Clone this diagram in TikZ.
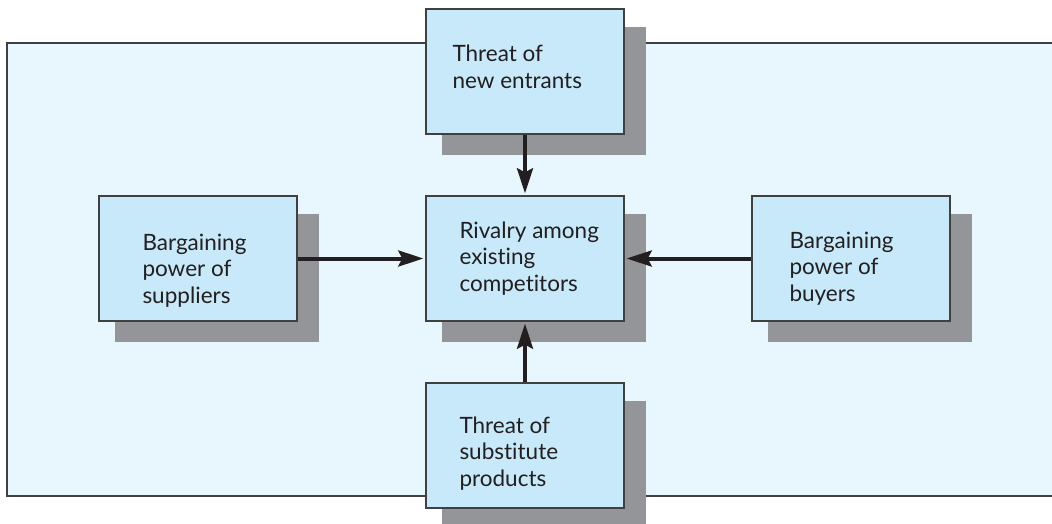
\documentclass[tikz,border=0pt]{standalone}
\usepackage{fontspec}
\setmainfont{Lato}[Ligatures={NoCommon}]
\usetikzlibrary{arrows.meta,shadows}
\definecolor{bgfill}{HTML}{E8F6FD}
\definecolor{boxfill}{HTML}{C7E9F9}
\definecolor{shadowgray}{HTML}{939598}
\definecolor{edgegray}{HTML}{404041}
\definecolor{inkblack}{HTML}{231F20}
\newcommand{\linestack}[1]{\vtop{\fontsize{22.5}{26.5}\selectfont\halign{##\hfil\cr#1\crcr}}}
\tikzset{
  forcebox/.style={draw=edgegray, fill=boxfill, line width=1.4pt,
    minimum width=198pt, minimum height=125pt, inner sep=0pt,
    general shadow={fill=shadowgray, shadow xshift=18.5pt, shadow yshift=-19pt, shadow scale=1.027}},
  forcetext/.style={anchor=base west, inner sep=0pt, text=inkblack},
  forcearrow/.style={draw=inkblack, line width=4pt,
    -{Stealth[length=25pt, width=16pt, inset=4pt]}, shorten >=2pt},
  frame/.style={draw=edgegray, line width=1.5pt}
}
\begin{document}
\begin{tikzpicture}[x=1pt, y=-1pt]
\useasboundingbox (0,0) rectangle (1052,524);
% background panel
\fill[bgfill] (7,43) rectangle (1052,496);
\draw[frame] (1052,43) -- (7,43) -- (7,496) -- (1052,496);
% boxes
\node[forcebox] (entrants) at (525,71.5) {};
\node[forcebox] (suppliers) at (198,258.5) {};
\node[forcebox] (rivalry) at (525,258.5) {};
\node[forcebox] (buyers) at (851,258.5) {};
\node[forcebox] (substitutes) at (525,445.5) {};
% texts (anchored at the baseline of their first line)
\node[forcetext] (entrants-t) at ([xshift=27pt,yshift=9.5pt]entrants.west) {\linestack{Threat of\cr new entrants}};
\node[forcetext] (suppliers-t) at ([xshift=44pt,yshift=8.5pt]suppliers.west) {\linestack{Bargaining\cr power of\cr suppliers}};
\node[forcetext] (rivalry-t) at ([xshift=34pt,yshift=20.5pt]rivalry.west) {\linestack{Rivalry among\cr existing\cr competitors}};
\node[forcetext] (buyers-t) at ([xshift=38pt,yshift=10.5pt]buyers.west) {\linestack{Bargaining\cr power of\cr buyers}};
\node[forcetext] (substitutes-t) at ([xshift=34pt,yshift=12.5pt]substitutes.west) {\linestack{Threat of\cr substitute\cr products}};
% arrows
\draw[forcearrow] (entrants) -- (rivalry);
\draw[forcearrow] (suppliers) -- (rivalry);
\draw[forcearrow] (buyers) -- (rivalry);
\draw[forcearrow] (substitutes) -- (rivalry);
\end{tikzpicture}
\end{document}
